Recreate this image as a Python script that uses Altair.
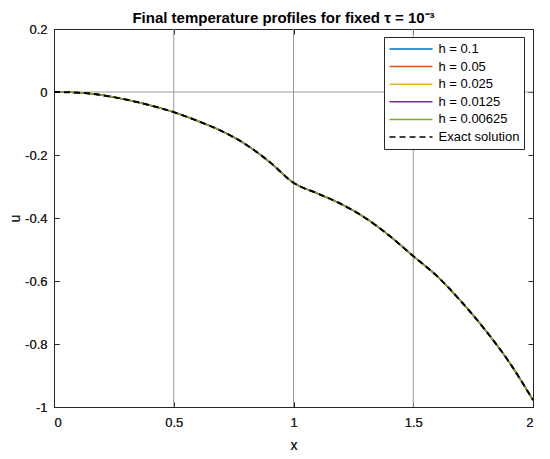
import altair as alt
import pandas as pd

# ---- data ----
x_vals = [0.0, 0.1, 0.2, 0.3, 0.4, 0.5, 0.6, 0.7, 0.8, 0.9, 1.0,
          1.1, 1.2, 1.3, 1.4, 1.5, 1.6, 1.7, 1.8, 1.9, 2.0]
u_vals = [0.0, -0.002, -0.010, -0.024, -0.042, -0.064, -0.092, -0.124, -0.166, -0.222, -0.288,
          -0.322, -0.356, -0.400, -0.456, -0.521, -0.585, -0.665, -0.755, -0.857, -0.978]

h_series = ["h = 0.1", "h = 0.05", "h = 0.025", "h = 0.0125", "h = 0.00625"]
exact_series = ["Exact solution"]
series_names = h_series + exact_series
series_colors = ["#0072BD", "#D95319", "#EDB120", "#7E2F8E", "#77AC30", "#000000"]
series_dash = [[1, 0], [1, 0], [1, 0], [1, 0], [1, 0], [6, 4]]

x_ticks = [0, 0.5, 1, 1.5, 2]
y_ticks = [-1, -0.8, -0.6, -0.4, -0.2, 0, 0.2]
grid_x = [0.5, 1, 1.5]
zero_line = [0]

FONT = "Liberation Sans"
LABEL_EXPR = "replace(format(datum.value, '~g'), '\u2212', '-')"

rows = []
for s in series_names:
    for xv, uv in zip(x_vals, u_vals):
        rows.append({"x": xv, "u": uv, "series": s})
df = pd.DataFrame(rows)
df_h = df[df["series"].isin(h_series)]
df_exact = df[df["series"].isin(exact_series)]

xscale = alt.Scale(domain=[0, 2], nice=False, zero=False)
yscale = alt.Scale(domain=[-1, 0.2], nice=False, zero=False)

legend = alt.Legend(
    orient="none", legendX=330, legendY=8, title=None,
    symbolType="stroke", symbolSize=1849, symbolStrokeWidth=1.5,
    clipHeight=15, rowPadding=2.6, padding=4.5,
    labelFont=FONT, labelFontSize=13, labelColor="#000000", labelOffset=5,
    strokeColor="#262626", fillColor="white", symbolOffset=0,
)

color_enc = alt.Color("series:N", scale=alt.Scale(domain=series_names, range=series_colors), legend=legend)
dash_enc = alt.StrokeDash("series:N", scale=alt.Scale(domain=series_names, range=series_dash), legend=legend)

x_axis_main = alt.Axis(orient="bottom", values=x_ticks, grid=False, domain=False, tickSize=5, offset=-5,
                       labelPadding=9, title="x", titlePadding=9, labelExpr=LABEL_EXPR)
y_axis_main = alt.Axis(orient="left", values=y_ticks, grid=False, domain=False, tickSize=5, offset=-5,
                       labelPadding=7, title="u", titlePadding=2, labelExpr=LABEL_EXPR)
x_axis_top = alt.Axis(orient="top", values=x_ticks, grid=False, domain=False, tickSize=5, offset=-5,
                      labels=False, title=None)
y_axis_right = alt.Axis(orient="right", values=y_ticks, grid=False, domain=False, tickSize=5, offset=-5,
                        labels=False, title=None)

vgrid = alt.Chart(pd.DataFrame({"gx": grid_x})).mark_rule(color="#9a9a9a", strokeWidth=1).encode(
    x=alt.X("gx:Q", scale=xscale, axis=x_axis_top)
)
hzero = alt.Chart(pd.DataFrame({"gy": zero_line})).mark_rule(color="#9a9a9a", strokeWidth=1).encode(
    y=alt.Y("gy:Q", scale=yscale, axis=y_axis_right)
)

h_lines = alt.Chart(df_h).mark_line(strokeWidth=1.5, interpolate="monotone").encode(
    x=alt.X("x:Q", scale=xscale, axis=x_axis_main),
    y=alt.Y("u:Q", scale=yscale, axis=y_axis_main),
    color=color_enc, strokeDash=dash_enc, detail="series:N",
)
exact_line = alt.Chart(df_exact).mark_line(strokeWidth=2, interpolate="monotone").encode(
    x=alt.X("x:Q", scale=xscale, axis=x_axis_main),
    y=alt.Y("u:Q", scale=yscale, axis=y_axis_main),
    color=color_enc, strokeDash=dash_enc,
)

chart = alt.layer(vgrid, hzero, h_lines, exact_line).resolve_axis(
    x="independent", y="independent"
).properties(
    width=479, height=378,
    title=alt.Title("Final temperature profiles for fixed τ = 10⁻³", font=FONT, fontSize=15,
                    fontWeight="bold", color="#000000", anchor="middle", offset=-3, dx=-10),
    autosize=alt.AutoSizeParams(type="none"),
    padding={"left": 46, "top": 21, "right": 9, "bottom": 44},
).configure_view(
    stroke="#262626", strokeWidth=1
).configure_axis(
    labelFont=FONT, labelFontSize=13, labelColor="#262626", tickColor="#262626",
    titleFont=FONT, titleFontSize=14, titleColor="#262626", titleFontWeight="normal",
)

chart.save("out.html", embed_options={"renderer": "svg", "actions": False})
